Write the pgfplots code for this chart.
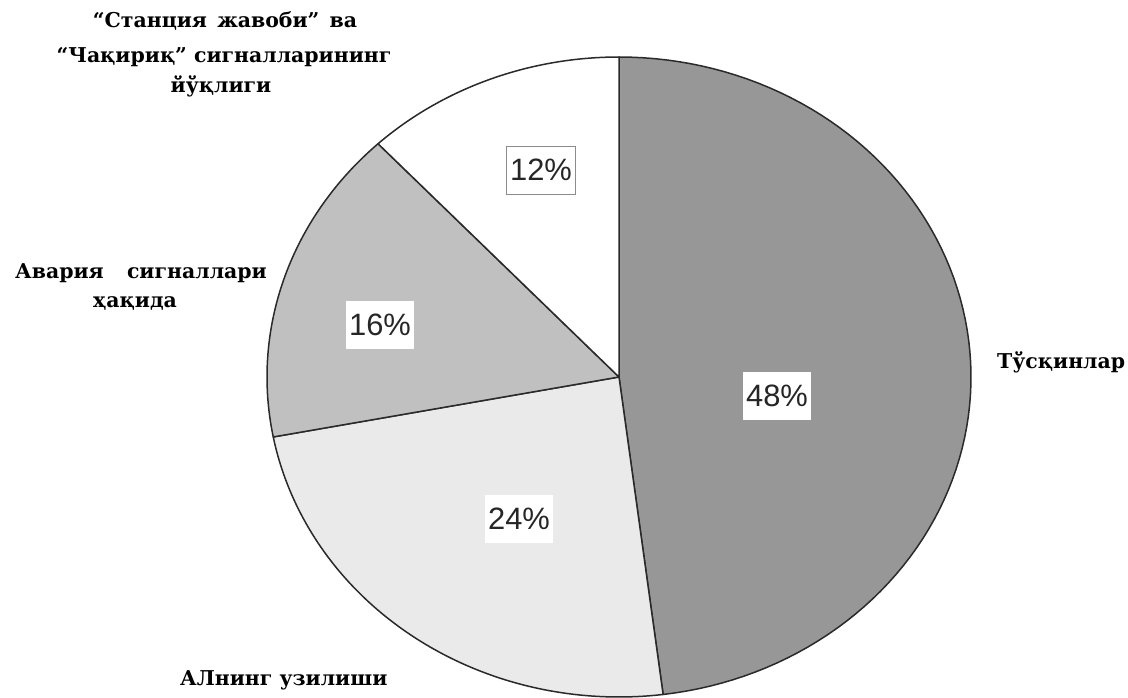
\documentclass[border=0pt]{standalone}
\usepackage{fontspec}
\setmainfont{DejaVu Serif}
\newfontfamily\pctfont{Liberation Sans}
\usepackage{pgfplots}
\pgfplotsset{compat=1.18}
\definecolor{cA}{HTML}{979797}
\definecolor{cB}{HTML}{EAEAEA}
\definecolor{cC}{HTML}{C0C0C0}
\definecolor{cD}{HTML}{FFFFFF}
\definecolor{edge}{HTML}{2A2A2A}
% slice values (percent)
\def\pA{48}\def\pB{24}\def\pC{16}\def\pD{12}
\pgfmathsetmacro\aA{0}
\pgfmathsetmacro\aB{\aA+3.6*\pA}
\pgfmathsetmacro\aC{\aB+3.6*\pB}
\pgfmathsetmacro\aD{\aC+3.6*\pC}
\pgfmathsetmacro\aE{\aD+3.6*\pD}
\begin{document}
\begin{tikzpicture}
\begin{axis}[
  scale only axis, width=1128bp, height=698bp,
  xmin=0, xmax=1128, ymin=0, ymax=698, y dir=reverse,
  hide axis, clip=false,
  every axis plot/.append style={draw=edge, line width=1.5bp, line join=round, samples=90, variable=\t},
]
\addplot[fill=cA, domain=\aA:\aB] ({619+352*sin(t)},{377-320*cos(t)}) -- (axis cs:619,377) -- cycle;
\addplot[fill=cB, domain=\aB:\aC] ({619+352*sin(t)},{377-320*cos(t)}) -- (axis cs:619,377) -- cycle;
\addplot[fill=cC, domain=\aC:\aD] ({619+352*sin(t)},{377-320*cos(t)}) -- (axis cs:619,377) -- cycle;
\addplot[fill=cD, domain=\aD:\aE] ({619+352*sin(t)},{377-320*cos(t)}) -- (axis cs:619,377) -- cycle;

\tikzset{pct/.style={fill=white, font=\pctfont\fontsize{31}{36}\selectfont, inner xsep=3.5bp, inner ysep=0pt, minimum height=48bp, text=black!85}}
\node[pct] at (axis cs:777,396) {\pA\%};
\node[pct] at (axis cs:519,519) {\pB\%};
\node[pct] at (axis cs:380,325) {\pC\%};
\node[pct, draw=black!45, line width=0.9bp] at (axis cs:541,170) {\pD\%};

\tikzset{cat/.style={font=\bfseries\fontsize{20.5}{28}\selectfont, inner sep=0pt, anchor=base}}
\node[cat] at (axis cs:225,28) {“Станция\hspace{0.5em}жавоби”\hspace{0.5em}ва};
\node[cat] at (axis cs:224,63) {“Чақириқ” сигналларининг};
\node[cat] at (axis cs:221,93) {йўқлиги};
\node[cat, anchor=base west] at (axis cs:15,278) {Авария};
\node[cat, anchor=base east] at (axis cs:267,278) {сигналлари};
\node[cat] at (axis cs:135,307) {ҳақида};
\node[cat, anchor=base west] at (axis cs:997,368) {Тўсқинлар};
\node[cat, anchor=base west] at (axis cs:180,685) {АЛнинг узилиши};
\end{axis}
\pgfresetboundingbox
\path (current axis.south west) rectangle (current axis.north east);
\end{tikzpicture}
\end{document}
